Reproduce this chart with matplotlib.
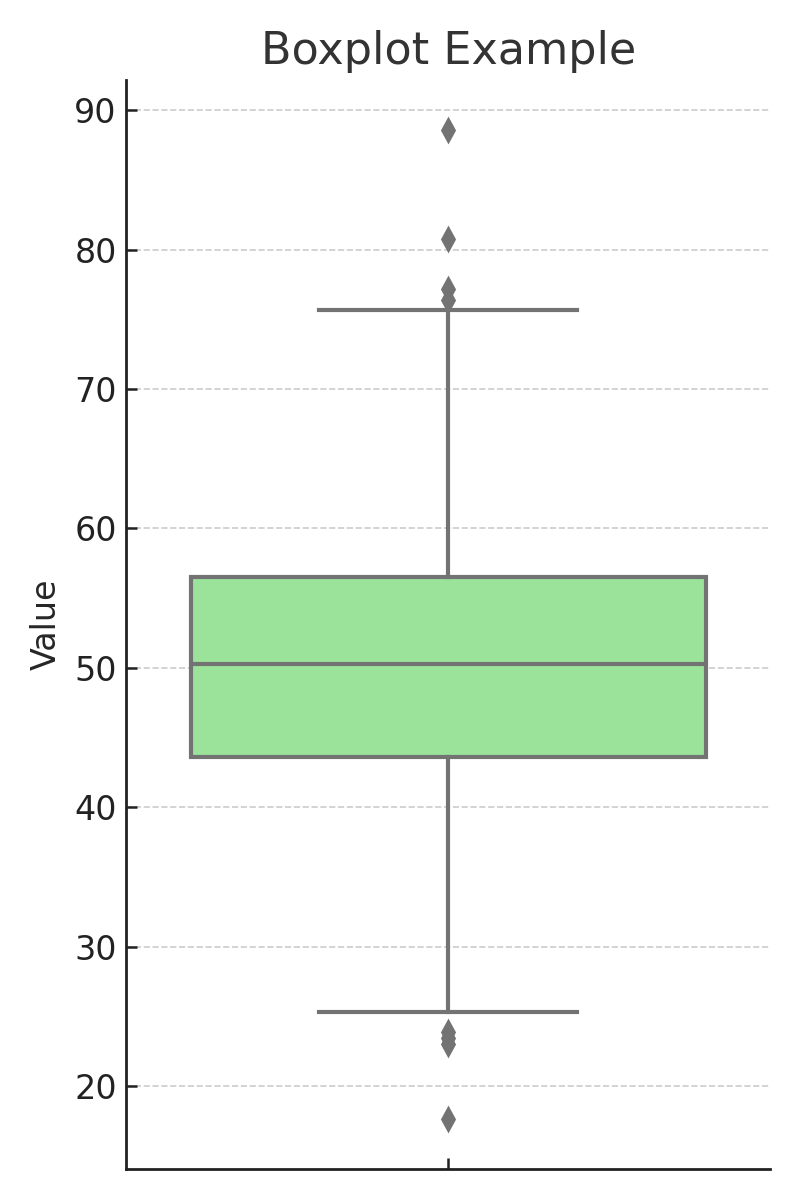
import matplotlib.pyplot as plt

# Box statistics
q1 = 43.6
median = 50.3
q3 = 56.5
whisker_low = 25.3
whisker_high = 75.7
outliers = [88.6, 80.8, 77.2, 76.4, 23.9, 23.4, 23.0, 17.6]

box_color = '#9be39b'
line_color = '#737373'

fig, ax = plt.subplots(figsize=(4, 6), dpi=200)

stats = [{
    'med': median, 'q1': q1, 'q3': q3,
    'whislo': whisker_low, 'whishi': whisker_high,
    'fliers': outliers, 'label': '',
}]
lw = 1.5
ax.bxp(stats, positions=[0], widths=0.8, patch_artist=True,
       boxprops=dict(facecolor=box_color, edgecolor=line_color, linewidth=lw),
       medianprops=dict(color=line_color, linewidth=lw),
       whiskerprops=dict(color=line_color, linewidth=lw),
       capprops=dict(color=line_color, linewidth=lw),
       capwidths=0.4,
       flierprops=dict(marker='d', markerfacecolor=line_color, markeredgecolor=line_color,
                       markersize=5.5))

ax.set_xlim(-0.5, 0.5)
ax.set_title('Boxplot Example', fontsize=16, color='#333333')
ax.set_ylabel('Value', fontsize=12, color='#262626')
ax.set_xticks([0])
ax.set_xticklabels([''])
ax.set_yticks([20, 30, 40, 50, 60, 70, 80, 90])
ax.tick_params(axis='both', direction='in', length=4, width=0.9, labelsize=12,
               colors='#222222')
ax.grid(axis='y', linestyle='--', color='#cccccc', linewidth=0.6)
ax.set_axisbelow(True)
for side in ['top', 'right']:
    ax.spines[side].set_visible(False)
for side in ['left', 'bottom']:
    ax.spines[side].set_color('#222222')
    ax.spines[side].set_linewidth(1.0)

fig.subplots_adjust(left=0.158, right=0.9625, top=0.933, bottom=0.026)
plt.savefig('out.png', dpi=200)
